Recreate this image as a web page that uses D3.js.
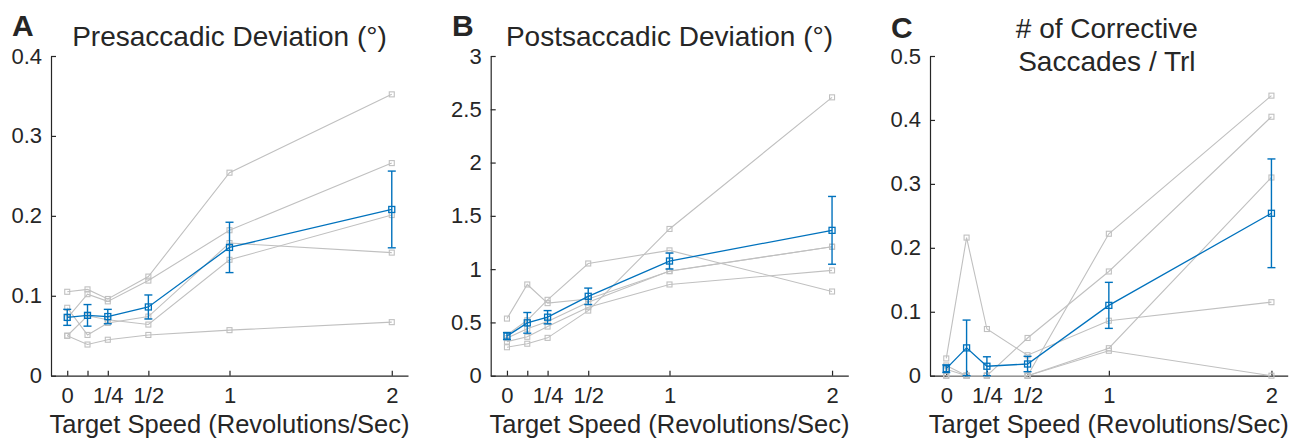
<!DOCTYPE html>
<html><head><meta charset="utf-8">
<script src="https://cdn.jsdelivr.net/npm/d3@7/dist/d3.min.js"></script>
<style>
html,body{margin:0;padding:0;background:#fff;}
text{font-family:"Liberation Sans",Arial,Helvetica,sans-serif;fill:#262626;}
</style></head>
<body>
<svg id="c" width="1299" height="443"></svg>
<script>
// ---- data ----
const speeds = [0, 0.125, 0.25, 0.5, 1, 2];
const speedTickLabels = ["0", "", "1/4", "1/2", "1", "2"];

// Panel A: presaccadic deviation (deg), one row per subject
const presacSubjects = [
  [0.105, 0.108, 0.096, 0.124, 0.254, 0.352],
  [0.072, 0.102, 0.093, 0.119, 0.182, 0.266],
  [0.085, 0.051, 0.066, 0.074, 0.166, 0.154],
  [0.050, 0.075, 0.070, 0.064, 0.145, 0.201],
  [0.050, 0.039, 0.045, 0.051, 0.057, 0.067]
];
const presacMean = [0.073, 0.0755, 0.074, 0.086, 0.1605, 0.208];
const presacSem  = [0.010, 0.0135, 0.009, 0.015, 0.0315, 0.048];
const presacTicks = [0, 0.1, 0.2, 0.3, 0.4];

// Panel B: postsaccadic deviation (deg)
const postsacSubjects = [
  [0.536, 0.856, 0.681, 0.720, 0.980, 1.210],
  [0.383, 0.520, 0.712, 1.053, 1.176, 0.790],
  [0.267, 0.300, 0.355, 0.611, 1.377, 2.612],
  [0.320, 0.365, 0.461, 0.643, 0.856, 0.988],
  [0.352, 0.440, 0.508, 0.690, 0.983, 1.210]
];
const postsacMean = [0.372, 0.496, 0.549, 0.745, 1.076, 1.364];
const postsacSem  = [0.033, 0.097, 0.062, 0.077, 0.075, 0.318];
const postsacTicks = [0, 0.5, 1, 1.5, 2, 2.5, 3];

// Panel C: corrective saccades per trial
const corrSubjects = [
  [0.027, 0.216, 0.073, 0.032, 0.086, 0.115],
  [0.016, 0.000, 0.000, 0.059, 0.163, 0.405],
  [0.010, 0.000, 0.000, 0.000, 0.222, 0.438],
  [0.000, 0.000, 0.000, 0.000, 0.043, 0.310],
  [0.000, 0.000, 0.000, 0.000, 0.039, 0.000]
];
const corrMean = [0.011, 0.0435, 0.0148, 0.0183, 0.110, 0.254];
const corrSem  = [0.006, 0.0435, 0.0148, 0.012, 0.036, 0.085];
const corrTicks = [0, 0.1, 0.2, 0.3, 0.4, 0.5];

const xLabel = "Target Speed (Revolutions/Sec)";

// ---- drawing ----
const svg = d3.select("#c");
const axisColor = "#262626", gray = "#c0c0c0", blue = "#0072BD";
const plotTop = 56, plotBottom = 375.7;

const panels = [
  {letter:"A", lx:12, ly:36, left:51, right:408, ymax:0.4, ticks:presacTicks, subj:presacSubjects, mean:presacMean, sem:presacSem, title:["Presaccadic Deviation (°)"]},
  {letter:"B", lx:452, ly:36, left:490.7, right:848.3, ymax:3, ticks:postsacTicks, subj:postsacSubjects, mean:postsacMean, sem:postsacSem, title:["Postsaccadic Deviation (°)"]},
  {letter:"C", lx:891, ly:38, left:930, right:1287.7, ymax:0.5, ticks:corrTicks, subj:corrSubjects, mean:corrMean, sem:corrSem, title:["# of Corrective","Saccades / Trl"]}
];

panels.forEach(p => {
  const g = svg.append("g");
  const x = d3.scaleLinear().domain([-0.1, 2.1]).range([p.left, p.right]);
  const y = d3.scaleLinear().domain([0, p.ymax]).range([plotBottom, plotTop]);

  // axes
  const xa = g.append("g").attr("transform", `translate(0,${plotBottom})`)
    .call(d3.axisBottom(x).tickValues(speeds).tickFormat((d,i)=>speedTickLabels[i]).tickSizeInner(-5).tickSizeOuter(0).tickPadding(12));
  const ya = g.append("g").attr("transform", `translate(${p.left},0)`)
    .call(d3.axisLeft(y).tickValues(p.ticks).tickFormat(d3.format("~g")).tickSizeInner(-5).tickSizeOuter(0).tickPadding(9));
  [xa, ya].forEach(a => {
    a.select(".domain").attr("stroke", axisColor).attr("stroke-width", 1.2);
    a.selectAll(".tick line").attr("stroke", axisColor).attr("stroke-width", 1.2);
    a.selectAll(".tick text").attr("font-size", 22).attr("fill", axisColor)
      .style("font-family", '"Liberation Sans",Arial,sans-serif');
  });

  const line = d3.line().x((d,i)=>x(speeds[i])).y(d=>y(d));

  // subject lines
  p.subj.forEach(s => {
    g.append("path").datum(s).attr("d", line).attr("fill","none").attr("stroke", gray).attr("stroke-width", 1.1);
    g.selectAll(null).data(s).enter().append("rect")
      .attr("x",(d,i)=>x(speeds[i])-2.5).attr("y",d=>y(d)-2.5).attr("width",5).attr("height",5)
      .attr("fill","none").attr("stroke", gray).attr("stroke-width",1.1);
  });

  // mean with error bars
  g.append("path").datum(p.mean).attr("d", line).attr("fill","none").attr("stroke", blue).attr("stroke-width", 1.3);
  const eb = g.selectAll(null).data(p.mean).enter().append("g");
  eb.append("line").attr("x1",(d,i)=>x(speeds[i])).attr("x2",(d,i)=>x(speeds[i]))
    .attr("y1",(d,i)=>y(Math.max(0,d-p.sem[i]))).attr("y2",(d,i)=>y(d+p.sem[i]))
    .attr("stroke", blue).attr("stroke-width",1.4);
  eb.append("line").attr("x1",(d,i)=>x(speeds[i])-4).attr("x2",(d,i)=>x(speeds[i])+4)
    .attr("y1",(d,i)=>y(d+p.sem[i])).attr("y2",(d,i)=>y(d+p.sem[i]))
    .attr("stroke", blue).attr("stroke-width",1.4);
  eb.append("line").attr("x1",(d,i)=>x(speeds[i])-4).attr("x2",(d,i)=>x(speeds[i])+4)
    .attr("y1",(d,i)=>y(Math.max(0,d-p.sem[i]))).attr("y2",(d,i)=>y(Math.max(0,d-p.sem[i])))
    .attr("stroke", blue).attr("stroke-width",1.4);
  eb.append("rect").attr("x",(d,i)=>x(speeds[i])-3).attr("y",d=>y(d)-3).attr("width",6).attr("height",6)
    .attr("fill","none").attr("stroke", blue).attr("stroke-width",1.3);

  // titles
  const cx = (p.left + p.right) / 2;
  if (p.title.length === 1) {
    g.append("text").attr("x", cx).attr("y", 46).attr("text-anchor","middle").attr("font-size", 28).text(p.title[0]);
  } else {
    g.append("text").attr("x", cx - 2).attr("y", 38).attr("text-anchor","middle").attr("font-size", 28).text(p.title[0]);
    g.append("text").attr("x", cx - 2).attr("y", 71).attr("text-anchor","middle").attr("font-size", 28).text(p.title[1]);
  }
  g.append("text").attr("x", p.lx).attr("y", p.ly).attr("font-size", 30).attr("font-weight","bold").text(p.letter);
  g.append("text").attr("x", cx).attr("y", 433).attr("text-anchor","middle").attr("font-size", 25.5).text(xLabel);
});
</script>
</body></html>
